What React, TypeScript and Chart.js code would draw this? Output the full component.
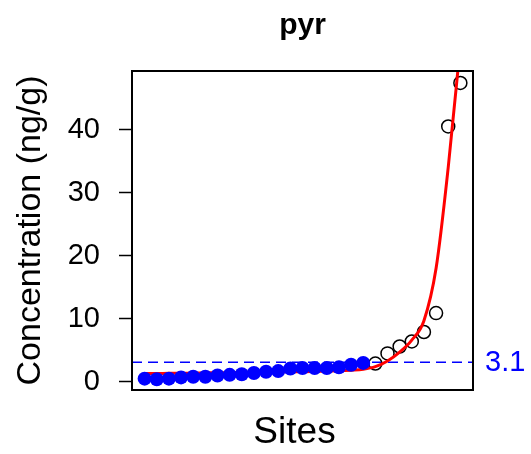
import React, { useEffect, useRef } from "react";
import { Chart, registerables } from "chart.js";

Chart.register(...registerables);

// ---- data ----
const chartTitle = "pyr";
const yAxisTitle = "Concentration (ng/g)";
const xAxisTitle = "Sites";
const yTickValues = [0, 10, 20, 30, 40];
const threshold = 3.1;
const thresholdLabel = "3.1";
// sites 1..19 (filled blue)
const belowValues = [0.5, 0.4, 0.5, 0.7, 0.8, 0.8, 1.0, 1.1, 1.2, 1.4, 1.6, 1.7, 2.1, 2.2, 2.2, 2.2, 2.3, 2.7, 3.0];
// sites 20..27 (open circles)
const aboveValues = [2.9, 4.5, 5.6, 6.4, 7.9, 10.9, 40.5, 47.4];
// fitted curve at sites 1..27
const fitValues = [1.3, 1.3, 1.35, 1.35, 1.4, 1.4, 1.45, 1.45, 1.5, 1.5, 1.55, 1.55, 1.6, 1.6, 1.65, 1.7, 1.75, 1.85, 2.0, 2.4, 3.3, 4.7, 6.6, 9.7, 18, 34, 53.5];
const yMin = -1.3;
const yMax = 49.3;

const FONT = "'Liberation Sans', Arial, sans-serif";

export default function App() {
  const ref = useRef<HTMLCanvasElement | null>(null);

  useEffect(() => {
    if (!ref.current) return;
    const nSites = belowValues.length + aboveValues.length;
    const xMin = 1 - 0.04 * (nSites - 1);
    const xMax = nSites + 0.04 * (nSites - 1);

    const belowData = belowValues.map((v, i) => ({ x: i + 1, y: v }));
    const aboveData = aboveValues.map((v, i) => ({ x: belowValues.length + i + 1, y: v }));
    const fitData = fitValues.map((v, i) => ({ x: i + 1, y: v }));
    const thresholdData = [
      { x: xMin, y: threshold },
      { x: xMax, y: threshold },
    ];

    const framePlugin = {
      id: "frame",
      afterDatasetsDraw(chart: any) {
        const { ctx, chartArea: a, scales } = chart;
        ctx.save();
        ctx.strokeStyle = "#000";
        ctx.lineWidth = 2;
        ctx.strokeRect(a.left, a.top, a.right - a.left, a.bottom - a.top);
        const y = scales.y.getPixelForValue(threshold);
        ctx.fillStyle = "#0000ff";
        ctx.font = `29px ${FONT}`;
        ctx.textAlign = "left";
        ctx.textBaseline = "middle";
        ctx.fillText(thresholdLabel, a.right + 12, y + 1);
        // x axis title
        ctx.fillStyle = "#000";
        ctx.font = `37px ${FONT}`;
        ctx.textAlign = "center";
        ctx.textBaseline = "alphabetic";
        ctx.fillText(xAxisTitle, (a.left + a.right) / 2 - 8, a.bottom + 53);
        ctx.restore();
      },
    };

    const chart = new Chart(ref.current, {
      type: "scatter",
      data: {
        datasets: [
          {
            data: belowData,
            pointRadius: 7,
            pointBackgroundColor: "#0000ff",
            pointBorderColor: "#0000ff",
            pointBorderWidth: 0,
            showLine: false,
            order: 0,
          } as any,
          {
            data: fitData,
            showLine: true,
            pointRadius: 0,
            borderColor: "#ff0000",
            borderWidth: 3,
            cubicInterpolationMode: "monotone",
            clip: 0,
            order: 1,
          } as any,
          {
            data: aboveData,
            pointRadius: 6.5,
            pointBackgroundColor: "rgba(0,0,0,0)",
            pointBorderColor: "#000",
            pointBorderWidth: 1.5,
            showLine: false,
            order: 2,
          } as any,
          {
            data: thresholdData,
            showLine: true,
            pointRadius: 0,
            borderColor: "#0000ff",
            borderWidth: 1.5,
            borderDash: [10, 6],
            clip: 0,
            order: 3,
          } as any,
        ],
      },
      options: {
        animation: false,
        responsive: false,
        devicePixelRatio: 1,
        layout: { padding: { left: 0, right: 58, top: 0, bottom: 0 } },
        plugins: {
          legend: { display: false },
          tooltip: { enabled: false },
          title: {
            display: true,
            fullSize: false,
            text: chartTitle,
            color: "#000",
            font: { family: FONT, size: 30, weight: "bold" },
            padding: { top: 8, bottom: 27 },
          },
        },
        scales: {
          x: {
            type: "linear",
            min: xMin,
            max: xMax,
            grid: { display: false },
            border: { display: false },
            ticks: { display: false },
            title: { display: false, text: xAxisTitle },
            afterFit: (scale: any) => {
              scale.height = 64;
            },
          },
          y: {
            type: "linear",
            min: yMin,
            max: yMax,
            grid: {
              drawOnChartArea: false,
              drawTicks: true,
              tickLength: 13,
              tickColor: "#000",
              tickWidth: 1.5,
            },
            border: { display: false },
            ticks: {
              color: "#000",
              font: { family: FONT, size: 29 },
              padding: 19,
            },
            afterBuildTicks: (scale: any) => {
              scale.ticks = yTickValues.map((v) => ({ value: v }));
            },
            title: {
              display: true,
              text: yAxisTitle,
              color: "#000",
              font: { family: FONT, size: 34 },
              padding: { top: 10, bottom: 0 },
            },
            afterFit: (scale: any) => {
              scale.width = 132;
            },
          },
        },
      },
      plugins: [framePlugin],
    });

    return () => chart.destroy();
  }, []);

  return (
    <div style={{ position: "absolute", left: 0, top: 0, width: 531, height: 454, background: "#fff" }}>
      <canvas ref={ref} width={531} height={454} />
    </div>
  );
}
